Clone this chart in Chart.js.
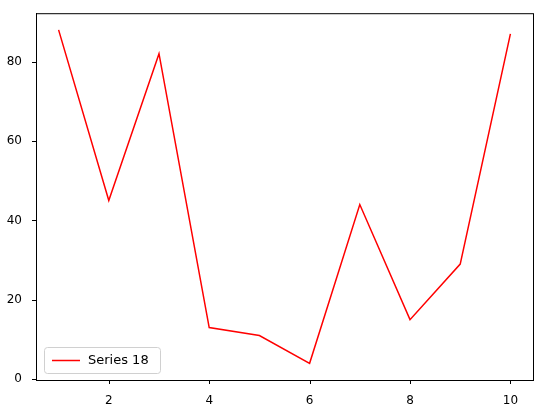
<!DOCTYPE html>
<html><head><meta charset="utf-8">
<script src="https://cdn.jsdelivr.net/npm/chart.js@4/dist/chart.umd.min.js"></script>
<style>html,body{margin:0;background:#fff;overflow:hidden}</style>
</head><body><canvas id="c" width="543" height="413"></canvas>
<script>
var xValues = [1, 2, 3, 4, 5, 6, 7, 8, 9, 10];
var yValues = [88, 45, 82, 13, 11, 4, 44, 15, 29, 87];
var seriesName = "Series 18";
var xTicks = [2, 4, 6, 8, 10];
var yTicks = [0, 20, 40, 60, 80];

var legendBox = {
    id: "legendBox",
    afterDraw: function (chart) {
        var ctx = chart.ctx, a = chart.chartArea;
        var x = a.left + 8, y = a.bottom - 33, w = 116, h = 26;
        ctx.save();
        ctx.fillStyle = "rgba(255,255,255,0.8)";
        ctx.strokeStyle = "#d0d0d0";
        ctx.lineWidth = 1;
        ctx.beginPath();
        ctx.roundRect(x + 0.5, y + 0.5, w, h, 3);
        ctx.fill(); ctx.stroke();
        ctx.strokeStyle = "red"; ctx.lineWidth = 1.5;
        ctx.beginPath(); ctx.moveTo(x + 8, y + 13.5); ctx.lineTo(x + 36, y + 13.5); ctx.stroke();
        ctx.fillStyle = "#000"; ctx.font = "13px 'DejaVu Sans'";
        ctx.textBaseline = "middle";
        ctx.fillText(seriesName, x + 44, y + 14);
        ctx.restore();
    }
};

new Chart("c", {
    type: "line",
    data: {
        datasets: [{
            label: seriesName,
            data: xValues.map(function (x, i) { return {x: x, y: yValues[i]}; }),
            borderColor: "red", borderWidth: 1.5, pointRadius: 0, fill: false, tension: 0
        }]
    },
    options: {
        responsive: false, animation: false,
        layout: {padding: {top: 10, right: 10, left: 0, bottom: 0}},
        plugins: {legend: {display: false}, tooltip: {enabled: false}},
        scales: {
            x: {
                type: "linear", min: 0.55, max: 10.45,
                afterBuildTicks: function (s) { s.ticks = xTicks.map(function (v) { return {value: v}; }); },
                afterFit: function (s) { s.height = 33; },
                grid: {display: false},
                border: {color: "#000", width: 1},
                ticks: {color: "#000", font: {family: "DejaVu Sans", size: 12}, padding: 6}
            },
            y: {
                min: -0.2, max: 92.2,
                afterBuildTicks: function (s) { s.ticks = yTicks.map(function (v) { return {value: v}; }); },
                afterFit: function (s) { s.width = 36; },
                grid: {display: false},
                border: {color: "#000", width: 1},
                ticks: {color: "#000", font: {family: "DejaVu Sans", size: 12}, padding: 6}
            }
        }
    },
    plugins: [legendBox, {
        id: "frame",
        afterDraw: function (chart) {
            var ctx = chart.ctx, a = chart.chartArea;
            ctx.save(); ctx.strokeStyle = "#000"; ctx.lineWidth = 1;
            ctx.strokeRect(a.left + 0.5, a.top + 0.5, a.right - a.left, a.bottom - a.top);
            ctx.beginPath();
            chart.scales.x.ticks.forEach(function (t) {
                var px = Math.round(chart.scales.x.getPixelForValue(t.value)) + 0.5;
                ctx.moveTo(px, a.bottom); ctx.lineTo(px, a.bottom + 4);
            });
            chart.scales.y.ticks.forEach(function (t) {
                var py = Math.round(chart.scales.y.getPixelForValue(t.value)) + 0.5;
                ctx.moveTo(a.left, py); ctx.lineTo(a.left - 4, py);
            });
            ctx.stroke(); ctx.restore();
        }
    }]
});
</script>
</body></html>
